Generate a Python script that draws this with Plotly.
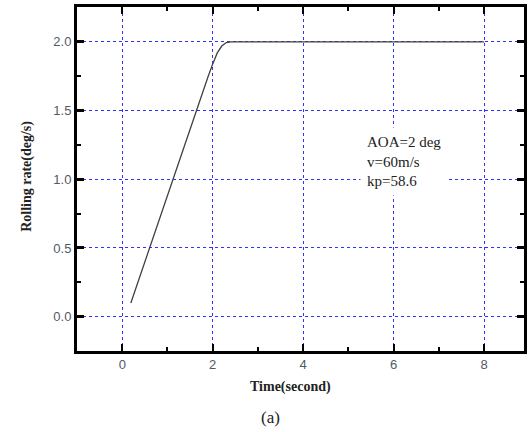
import plotly.graph_objects as go

time_s = [0.19, 0.5, 1.0, 1.5, 1.8, 1.9, 2.0, 2.1, 2.2, 2.3, 2.4, 2.6, 3.0, 4.0, 5.0, 6.0, 7.0, 8.0]
roll_rate = [0.10, 0.40, 0.89, 1.37, 1.66, 1.75, 1.84, 1.92, 1.97, 1.995, 2.0, 2.0, 2.0, 2.0, 2.0, 2.0, 2.0, 2.0]

x_ticks = [0, 2, 4, 6, 8]
y_ticks = [0.0, 0.5, 1.0, 1.5, 2.0]
y_tick_labels = ["0.0", "0.5", "1.0", "1.5", "2.0"]
note_lines = ["AOA=2 deg", "v=60m/s", "kp=58.6"]

fig = go.Figure()
fig.add_trace(go.Scatter(x=time_s, y=roll_rate, mode="lines",
                         line=dict(color="#404040", width=1.3), showlegend=False))

grid = dict(showgrid=True, gridcolor="#3030ff", griddash="dot", gridwidth=1)
tickfont = dict(family="Arial, Liberation Sans, sans-serif", size=13, color="#505a66")

fig.update_xaxes(range=[-1.0, 8.88], tickvals=x_ticks, ticks="inside", ticklen=7, tickwidth=2,
                 tickcolor="black", showline=True, linecolor="black", linewidth=2.5, mirror="allticks",
                 minor=dict(ticks="inside", ticklen=4, tickwidth=2, dtick=1, tick0=0, tickcolor="black"),
                 zeroline=False, tickfont=tickfont, **grid)
fig.update_yaxes(range=[-0.25, 2.254], tickvals=y_ticks, ticktext=y_tick_labels, ticks="inside",
                 ticklen=7, tickwidth=2.5, tickcolor="black", showline=True, linecolor="black",
                 linewidth=3, mirror="allticks",
                 minor=dict(ticks="inside", ticklen=4, tickwidth=2, dtick=0.25, tick0=0, tickcolor="black"),
                 zeroline=False, tickfont=tickfont, **grid)

fig.add_annotation(x=5.25, y=1.38, xref="x", yref="y", xanchor="left", yanchor="top", align="left",
                   text="<br>".join(note_lines), showarrow=False, bgcolor="white", borderpad=6,
                   font=dict(family="Liberation Serif, Times New Roman, serif", size=15, color="#222"))

# pixel-positioned texts (centre x, centre y in window pixels)
L, R, T, B = 77, 4, 6, 81
pw, ph = 531 - L - R, 432 - T - B
pixel_texts = [
    ("<b>Time(second)</b>", 292, 387, 0, 14),
    ("<b>Rolling rate(deg/s)</b>", 26, 176, -90, 14),
    ("(a)", 272, 418, 0, 17),
]
for txt, px, py, ang, sz in pixel_texts:
    fig.add_annotation(x=(px - L) / pw, y=(432 - B - py) / ph, xref="paper", yref="paper",
                       xanchor="center", yanchor="middle", text=txt, showarrow=False, textangle=ang,
                       font=dict(family="Liberation Serif, serif", size=sz, color="#222"))

fig.update_layout(width=531, height=432, margin=dict(l=L, r=R, t=T, b=B),
                  plot_bgcolor="white", paper_bgcolor="white")
fig.write_html("out.html")
